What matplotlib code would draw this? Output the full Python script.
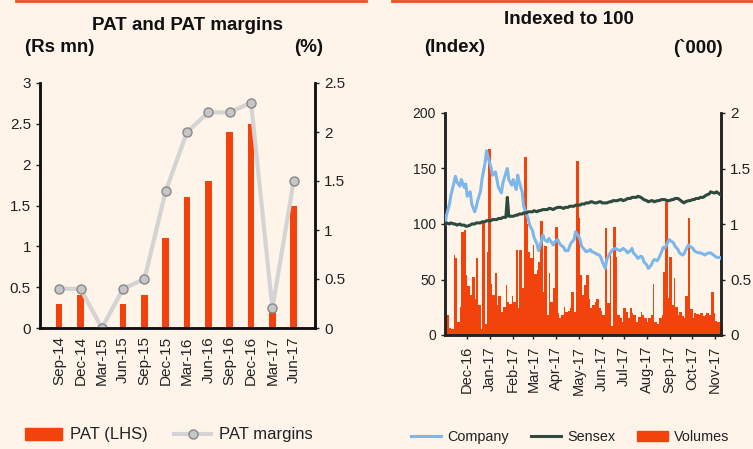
import numpy as np
import pandas as pd
import matplotlib
matplotlib.use("Agg")
from matplotlib import pyplot as plt
import matplotlib.dates as mdates
from matplotlib.patches import Patch
from matplotlib.lines import Line2D

plt.rcParams['font.family'] = ['Liberation Sans', 'DejaVu Sans']

# ---- left chart data ----
quarters = ['Sep-14', 'Dec-14', 'Mar-15', 'Jun-15', 'Sep-15', 'Dec-15',
            'Mar-16', 'Jun-16', 'Sep-16', 'Dec-16', 'Mar-17', 'Jun-17']
pat = [0.3, 0.4, 0.0, 0.3, 0.4, 1.1, 1.6, 1.8, 2.4, 2.5, 0.2, 1.5]
pat_margin = [0.4, 0.4, 0.0, 0.4, 0.5, 1.4, 2.0, 2.2, 2.2, 2.3, 0.2, 1.5]

# ---- right chart data (every 2nd trading day from 2-Nov-16) ----
company = [100, 108, 118, 126, 137, 143, 138, 134, 140, 133,
           136, 125, 129, 118, 111, 115, 121, 130, 141, 155,
           166, 160, 151, 144, 147, 140, 133, 128, 137, 146,
           150, 140, 135, 140, 131, 144, 138, 129, 116, 109,
           105, 99, 94, 88, 82, 76, 80, 90, 86, 84,
           87, 85, 81, 84, 86, 83, 81, 79, 76, 76,
           80, 83, 86, 93, 89, 86, 80, 77, 75, 76,
           77, 75, 74, 73, 72, 70, 66, 60, 68, 73,
           75, 77, 78, 77, 76, 77, 78, 76, 74, 76,
           78, 74, 71, 69, 71, 70, 66, 63, 60, 63,
           66, 68, 67, 69, 75, 79, 78, 83, 86, 84,
           83, 80, 77, 74, 72, 73, 76, 81, 80, 78,
           76, 75, 74, 74, 73, 72, 73, 74, 74, 72,
           71, 70, 70, 69]
sensex = [100, 101, 100, 101, 100, 100, 99, 100, 99, 99,
          98, 98, 99, 100, 100, 101, 101, 101, 102, 102,
          103, 103, 103, 104, 104, 104, 105, 105, 106, 106,
          124, 107, 107, 107, 108, 108, 109, 109, 110, 110,
          111, 111, 111, 112, 111, 112, 112, 113, 113, 113,
          114, 114, 113, 114, 115, 115, 115, 114, 115, 115,
          116, 116, 116, 117, 117, 117, 118, 118, 119, 119,
          120, 120, 119, 119, 120, 120, 119, 119, 119, 120,
          120, 121, 121, 121, 122, 122, 121, 122, 123, 123,
          124, 124, 124, 125, 124, 123, 122, 121, 120, 121,
          121, 120, 121, 121, 122, 122, 122, 121, 121, 122,
          122, 123, 123, 122, 120, 119, 120, 121, 121, 122,
          122, 123, 123, 124, 124, 125, 126, 127, 129, 128,
          128, 129, 127, 126]
volumes = [0.35, 0.18, 0.06, 0.05, 0.72, 0.69, 0.12, 0.25, 0.93, 0.95,
           0.54, 0.44, 0.36, 0.52, 0.32, 0.69, 0.27, 0.05, 1.02, 0.10,
           0.75, 1.68, 0.46, 0.36, 0.56, 0.27, 0.35, 0.21, 0.25, 0.45,
           0.30, 0.28, 0.35, 0.30, 0.77, 0.24, 0.77, 0.42, 1.60, 1.00,
           0.75, 0.69, 0.81, 0.55, 0.59, 0.66, 1.03, 0.39, 0.80, 0.18,
           0.56, 0.30, 0.42, 0.97, 0.20, 0.15, 0.18, 0.25, 0.21, 0.22,
           0.24, 0.39, 0.21, 1.57, 1.05, 0.54, 0.36, 0.45, 0.54, 0.32,
           0.24, 0.27, 0.30, 0.32, 0.24, 0.22, 0.18, 0.96, 0.29, 0.75,
           0.08, 0.97, 0.70, 0.18, 0.15, 0.12, 0.24, 0.21, 0.15, 0.24,
           0.20, 0.18, 0.12, 0.16, 0.21, 0.18, 0.15, 0.12, 0.15, 0.18,
           0.46, 0.12, 0.10, 0.15, 0.18, 0.57, 1.20, 0.33, 0.70, 0.27,
           0.51, 0.25, 0.18, 0.21, 0.17, 0.15, 0.35, 1.05, 0.23, 0.15,
           0.20, 0.19, 0.18, 0.20, 0.17, 0.18, 0.20, 0.18, 0.39, 0.20,
           0.13, 0.12, 0.09, 0.08]
dates = pd.bdate_range('2016-11-02', periods=len(company), freq='2B')

bg = '#FEF4EA'
orange = '#F2430C'
txt = '#222222'
ttl = dict(fontsize=13.5, fontweight='bold', color='#111111', va='center')

fig = plt.figure(figsize=(7.53, 4.49), dpi=100, facecolor=bg)

# orange strips on top
fig.add_artist(Line2D([16/753, 366/753], [0.997, 0.997], color='#F04E1E', lw=2))
fig.add_artist(Line2D([392/753, 1.0], [0.997, 0.997], color='#F04E1E', lw=2))

# ---------------- left: PAT ----------------
ax = fig.add_axes([40/753, 1-328/449, 275/753, 245/449])
ax.set_facecolor(bg)
x = np.arange(len(quarters))
ax.bar(x, pat, width=0.31, color=orange, zorder=2)
ax.set_ylim(0, 3)
ax.set_yticks(np.arange(0, 3.01, 0.5))
ax.set_yticklabels(['0', '0.5', '1', '1.5', '2', '2.5', '3'])
ax.set_xlim(-0.9, 12.0)
ax.set_xticks(x)
ax.set_xticklabels(quarters, rotation=90)
ax.tick_params(axis='x', length=0, pad=6, labelsize=11, colors=txt)
ax.tick_params(axis='y', length=3, width=1, labelsize=11, colors=txt)

axr = ax.twinx()
axr.plot(x, pat_margin, color='#D4D4D4', lw=3, marker='o', ms=6.5,
         mfc='#C6C6C6', mec='#888888', mew=1)
axr.set_ylim(0, 2.5)
axr.set_yticks(np.arange(0, 2.51, 0.5))
axr.set_yticklabels(['0', '0.5', '1', '1.5', '2', '2.5'])
axr.tick_params(axis='y', length=3, width=1, labelsize=11, colors=txt)

for a in (ax, axr):
    a.spines['top'].set_visible(False)
    for s in ('left', 'right', 'bottom'):
        a.spines[s].set_linewidth(1.8)
        a.spines[s].set_color('#111111')

fig.text(188/753, 1-25/449, 'PAT and PAT margins', ha='center', **ttl)
fig.text(25/753, 1-48/449, '(Rs mn)', ha='left', **ttl)
fig.text(323/753, 1-48/449, '(%)', ha='right', **ttl)

h1 = [Patch(color=orange),
      Line2D([], [], color='#D4D4D4', lw=3, marker='o', ms=6.5,
             mfc='#C6C6C6', mec='#888888')]
fig.legend(h1, ['PAT (LHS)', 'PAT margins'], loc='center',
           bbox_to_anchor=(169/753, 1-435/449), ncol=2, frameon=False,
           fontsize=12, handlelength=2.2, handletextpad=0.5,
           columnspacing=1.6, labelcolor=txt)

# ---------------- right: indexed ----------------
bx = fig.add_axes([445/753, 1-335/449, 276/753, 222/449])
bx.set_facecolor(bg)
bx.plot(dates, company, color='#7DB7EA', lw=2.2, zorder=3)
bx.plot(dates, sensex, color='#2E4A3E', lw=2.2, zorder=3)
bx.set_ylim(0, 200)
bx.set_yticks([0, 50, 100, 150, 200])
bx.set_xlim(dates[0], dates[-1])
bx.xaxis.set_major_locator(mdates.MonthLocator())
bx.xaxis.set_major_formatter(mdates.DateFormatter('%b-%y'))
for lab in bx.get_xticklabels():
    lab.set_rotation(90)
bx.tick_params(axis='x', length=3, width=1, labelsize=10.5, colors=txt, pad=5)
bx.tick_params(axis='y', length=3, width=1, labelsize=10, colors=txt)

bxr = bx.twinx()
day_num = mdates.date2num(dates)
widths = np.append(np.diff(day_num), day_num[-1] - day_num[-2])
bxr.bar(day_num, volumes, width=widths, align='edge', color=orange,
        linewidth=0, zorder=1)
bxr.set_ylim(0, 2)
bxr.set_yticks([0, 0.5, 1, 1.5, 2])
bxr.set_yticklabels(['0', '0.5', '1', '1.5', '2'])
bxr.tick_params(axis='y', length=3, width=1, labelsize=11, colors=txt)
bx.set_zorder(bxr.get_zorder() + 1)
bx.patch.set_visible(False)
bxr.patch.set_facecolor(bg)

for a in (bx, bxr):
    a.spines['top'].set_visible(False)
    for s in ('left', 'right', 'bottom'):
        a.spines[s].set_linewidth(1.8)
        a.spines[s].set_color('#222222')

fig.text(569/753, 1-20/449, 'Indexed to 100', ha='center', **ttl)
fig.text(424/753, 1-48/449, '(Index)', ha='left', **ttl)
fig.text(723/753, 1-48/449, '(`000)', ha='right', **ttl)

h2 = [Line2D([], [], color='#7DB7EA', lw=2.2),
      Line2D([], [], color='#2E4A3E', lw=2.2),
      Patch(color=orange)]
fig.legend(h2, ['Company', 'Sensex', 'Volumes'], loc='center',
           bbox_to_anchor=(570/753, 1-437/449), ncol=3, frameon=False,
           fontsize=10.4, handlelength=2.1, handletextpad=0.45,
           columnspacing=1.5, labelcolor=txt)

fig.savefig('out.png', dpi=100, facecolor=bg)
